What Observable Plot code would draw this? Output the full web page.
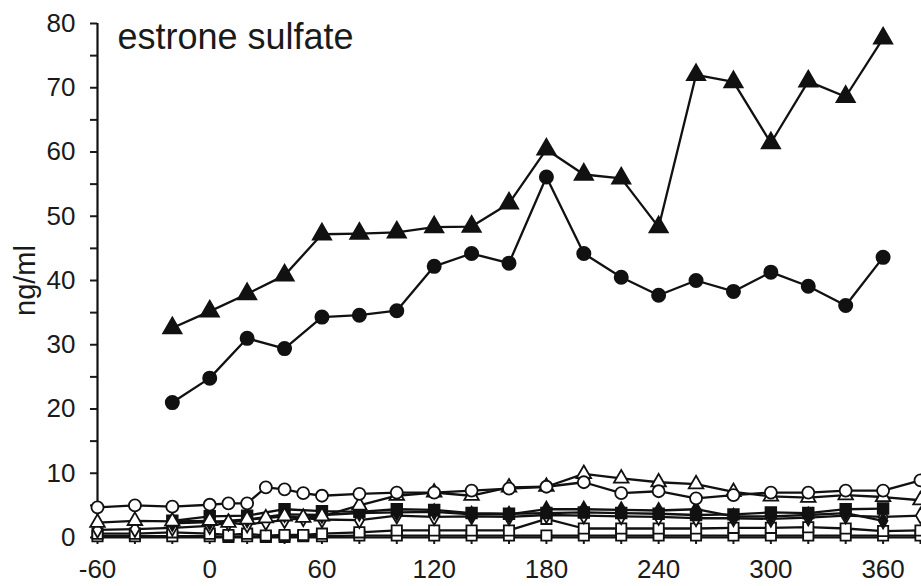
<!DOCTYPE html>
<html>
<head>
<meta charset="utf-8">
<script src="https://cdn.jsdelivr.net/npm/d3@7"></script>
<script src="https://cdn.jsdelivr.net/npm/@observablehq/plot@0.6"></script>
<style>
  html, body { margin: 0; padding: 0; background: #fff; }
  #chart { width: 921px; height: 586px; overflow: hidden; }
</style>
</head>
<body>
<div id="chart"></div>
<script>
// Sampling times (minutes)
const timeFull = [-60, -40, -20, 0, 10, 20, 30, 40, 50, 60, 80, 100, 120, 140, 160, 180, 200, 220, 240, 260, 280, 300, 320, 340, 360, 380];
const timeMain = [-20, 0, 20, 40, 60, 80, 100, 120, 140, 160, 180, 200, 220, 240, 260, 280, 300, 320, 340, 360];

// Estrone sulfate concentrations (ng/ml)
const triFilled = [32.6, 35.2, 37.9, 40.8, 47.2, 47.3, 47.5, 48.3, 48.4, 52.0, 60.4, 56.5, 55.9, 48.3, 72.0, 70.9, 61.4, 71.0, 68.6, 77.7];
const circFilled = [21.0, 24.8, 31.0, 29.4, 34.3, 34.6, 35.3, 42.2, 44.2, 42.7, 56.1, 44.2, 40.5, 37.7, 40.0, 38.3, 41.3, 39.1, 36.1, 43.6];
const sqFilled = [2.6, 3.3, 3.4, 4.4, 4.1, 4.0, 4.4, 4.3, 3.8, 3.7, 3.8, 3.9, 3.8, 3.7, 3.5, 3.6, 3.9, 3.8, 4.4, 4.5];
const diaFilled = [2.2, 2.4, 2.8, 3.6, 3.5, 3.8, 3.9, 4.0, 3.6, 3.6, 4.4, 4.4, 4.3, 4.2, 4.4, 3.3, 3.3, 3.5, 3.8, 2.6];
const circOpen = [4.7, 5.0, 4.8, 5.1, 5.3, 5.3, 7.8, 7.5, 6.9, 6.5, 6.8, 7.0, 7.0, 7.3, 7.6, 7.9, 8.6, 6.9, 7.2, 6.1, 6.6, 7.0, 7.0, 7.3, 7.3, 8.9];
const triOpen = [2.3, 2.6, 2.5, 2.6, 2.3, 2.8, 3.0, 3.3, 3.1, 3.3, 5.0, 6.5, 7.0, 6.5, 7.8, 7.9, 9.9, 9.2, 8.6, 8.3, 7.1, 6.4, 6.2, 6.6, 6.3, 5.8];
const diaOpen = [1.2, 1.3, 1.5, 1.8, 2.3, 2.0, 2.4, 2.7, 3.0, 2.8, 2.7, 3.4, 3.2, 3.3, 3.2, 3.5, 3.4, 3.3, 3.2, 3.0, 3.0, 2.9, 3.1, 3.4, 3.2, 3.4];
const sqOpen = [0.6, 0.6, 0.8, 0.6, 0.4, 0.6, 0.3, 0.4, 0.4, 0.6, 0.8, 1.1, 1.1, 1.1, 1.1, 2.9, 1.4, 1.4, 1.4, 1.4, 1.5, 1.5, 1.6, 1.4, 1.0, 1.1];
const sqOpenLow = [0.2, 0.2, 0.2, 0.2, 0.1, 0.2, 0.1, 0.1, 0.2, 0.2, 0.3, 0.3, 0.3, 0.3, 0.3, 0.3, 0.3, 0.3, 0.3, 0.3, 0.3, 0.3, 0.3, 0.3, 0.3, 0.3];

// Axis ticks
const yTicks = [0, 5, 10, 15, 20, 25, 30, 35, 40, 45, 50, 55, 60, 65, 70, 75, 80];
const xTicks = [-60, -40, -20, 0, 20, 40, 60, 80, 100, 120, 140, 160, 180, 200, 220, 240, 260, 280, 300, 320, 340, 360, 380];

const ink = "#111";

const series = [
  {t: timeFull, v: sqOpenLow, symbol: "square", fill: "white", r: 5.8},
  {t: timeFull, v: sqOpen, symbol: "square", fill: "white", r: 5.8},
  {t: timeFull, v: diaOpen, symbol: "diamond", fill: "white", r: 4.8},
  {t: timeMain, v: diaFilled, symbol: "diamond", fill: ink, r: 4.6},
  {t: timeMain, v: sqFilled, symbol: "square", fill: ink, r: 6},
  {t: timeFull, v: triOpen, symbol: "triangle", fill: "white", r: 5.4},
  {t: timeFull, v: circOpen, symbol: "circle", fill: "white", r: 6},
  {t: timeMain, v: circFilled, symbol: "circle", fill: ink, r: 6.6},
  {t: timeMain, v: triFilled, symbol: "triangle", fill: ink, r: 6.8}
];

const seriesMarks = series.flatMap(s => {
  const rows = s.t.map((t, i) => ({t, v: s.v[i]}));
  return [
    Plot.line(rows, {x: "t", y: "v", stroke: ink, strokeWidth: 2.3}),
    Plot.dot(rows, {x: "t", y: "v", symbol: () => s.symbol, r: s.r, fill: s.fill, stroke: ink, strokeWidth: 1.8})
  ];
});

const chart = Plot.plot({
  width: 921,
  height: 586,
  marginLeft: 97,
  marginRight: 1,
  marginTop: 23,
  marginBottom: 49,
  style: {fontFamily: "'Liberation Sans', Arial, sans-serif", fontSize: "26px", color: "#1a1a1a", background: "white"},
  x: {domain: [-60, 380]},
  y: {domain: [0, 80]},
  symbol: {type: "identity"},
  marks: [
    Plot.axisY({ticks: yTicks, tickSize: 7, tickPadding: 15, strokeWidth: 2, fontSize: 26, tickFormat: d => d % 10 === 0 ? String(d) : "", label: null}),
    Plot.axisX({ticks: xTicks, tickSize: 7, tickPadding: 15, strokeWidth: 2, fontSize: 26, tickFormat: d => d % 60 === 0 ? String(d) : "", label: null}),
    Plot.ruleX([-60], {y1: 0, y2: 80, strokeWidth: 2.2, stroke: ink}),
    Plot.ruleY([0], {strokeWidth: 2.2, stroke: ink}),
    ...seriesMarks,
    Plot.text(["ng/ml"], {text: d => d, frameAnchor: "left", dx: -72, rotate: -90, textAnchor: "middle", lineAnchor: "middle", fontSize: 29}),
    Plot.text(["estrone sulfate"], {text: d => d, frameAnchor: "top-left", dx: 20, dy: 0, textAnchor: "start", lineAnchor: "top", fontSize: 36})
  ]
});

document.getElementById("chart").appendChild(chart);
</script>
</body>
</html>
